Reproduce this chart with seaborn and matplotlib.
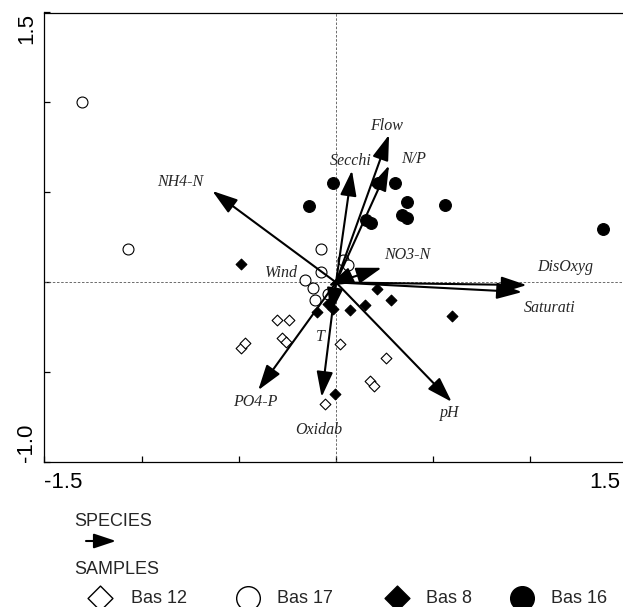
import numpy as np
import pandas as pd
import seaborn as sns
import matplotlib.pyplot as plt
import matplotlib.transforms as mtransforms

# sample scores (axis 1, axis 2)
bas12_x = [-0.303, -0.242, -0.489, -0.468, -0.278, -0.257, 0.021, 0.257, 0.175, 0.195, -0.057]
bas12_y = [-0.210, -0.210, -0.366, -0.338, -0.310, -0.332, -0.343, -0.421, -0.549, -0.577, -0.677]

bas17_x = [-1.307, -1.070, -0.077, 0.036, 0.062, -0.077, -0.159, -0.118, -0.108, -0.041]
bas17_y = [1.004, 0.185, 0.185, 0.124, 0.096, 0.057, 0.013, -0.032, -0.098, -0.065]

bas8_x = [-0.489, 0.211, 0.283, 0.149, 0.072, 0.597, -0.005, -0.098, -0.015, -0.041]
bas8_y = [0.102, -0.037, -0.099, -0.126, -0.154, -0.188, -0.622, -0.165, -0.149, -0.121]

bas16_x = [-0.015, -0.139, 0.216, 0.304, 0.365, 0.561, 0.340, 0.365, 0.154, 0.180, 1.373]
bas16_y = [0.553, 0.425, 0.553, 0.553, 0.447, 0.430, 0.375, 0.358, 0.347, 0.330, 0.297]

# environmental variables (arrow tips)
env_names = ["NH4-N", "Flow", "N/P", "Secchi", "NO3-N", "DisOxyg", "Saturati",
             "Wind", "T", "PO4-P", "Oxidab", "pH"]
env_x = [-0.636, 0.273, 0.273, 0.082, 0.235, 0.981, 0.957, -0.04, -0.026, -0.400, -0.074, 0.595]
env_y = [0.508, 0.820, 0.650, 0.622, 0.081, -0.015, -0.054, -0.02, -0.171, -0.599, -0.637, -0.664]
# where the names sit
lab_x = [-0.802, 0.260, 0.398, 0.075, 0.364, 1.178, 1.101, -0.279, -0.082, -0.417, -0.091, 0.586]
lab_y = [0.558, 0.867, 0.686, 0.675, 0.152, 0.087, -0.145, 0.053, -0.304, -0.664, -0.818, -0.726]

groups = ["Bas 12", "Bas 17", "Bas 8", "Bas 16"]

df = pd.concat([
    pd.DataFrame({"x": bas12_x, "y": bas12_y, "group": "Bas 12"}),
    pd.DataFrame({"x": bas17_x, "y": bas17_y, "group": "Bas 17"}),
    pd.DataFrame({"x": bas8_x, "y": bas8_y, "group": "Bas 8"}),
    pd.DataFrame({"x": bas16_x, "y": bas16_y, "group": "Bas 16"}),
], ignore_index=True)

styles = {
    "Bas 12": dict(marker="D", face="white", s=30),
    "Bas 17": dict(marker="o", face="white", s=62),
    "Bas 8": dict(marker="D", face="black", s=30),
    "Bas 16": dict(marker="o", face="black", s=72),
}

sns.set_theme(style="ticks")
plt.rcParams["font.family"] = ["Liberation Sans", "DejaVu Sans"]

W, H = 623, 607
fig = plt.figure(figsize=(W / 100, H / 100), dpi=100)
ax = fig.add_axes([44.4 / W, 1 - 462.3 / H, 583.2 / W, (462.3 - 12.5) / H])
ax.set_xlim(-1.5, 1.5)
ax.set_ylim(-1.0, 1.5)

ax.axhline(0, color="#555555", lw=0.6, ls=(0, (3, 2)), zorder=1)
ax.axvline(0, color="#555555", lw=0.6, ls=(0, (3, 2)), zorder=1)

for g in groups:
    st = styles[g]
    sns.scatterplot(data=df[df.group == g], x="x", y="y", marker=st["marker"], s=st["s"],
                    color=st["face"], edgecolor="black", linewidth=0.8, legend=False,
                    ax=ax, zorder=3)

arrow_style = "-|>,head_length=1.55,head_width=0.5"
for name, ex, ey, lx, ly in zip(env_names, env_x, env_y, lab_x, lab_y):
    ax.annotate("", xy=(ex, ey), xytext=(0, 0),
                arrowprops=dict(arrowstyle=arrow_style, mutation_scale=10, lw=1.5,
                                color="black", shrinkA=0, shrinkB=0), zorder=4)
    ax.text(lx, ly, name, ha="center", va="center", fontstyle="italic",
            family="Liberation Serif", fontsize=11.5, zorder=5)

ax.set_xlabel("")
ax.set_ylabel("")
ax.set_xticks(np.arange(-1.5, 1.51, 0.5))
ax.set_xticklabels(["-1.5", "", "", "", "", "", "1.5"])
ax.set_yticks(np.arange(-1.0, 1.51, 0.5))
ax.set_yticklabels(["-1.0", "", "", "", "", "1.5"])
ax.tick_params(axis="x", direction="in", length=4, width=0.9, pad=7, labelsize=16,
               colors="black", top=False)
ax.tick_params(axis="y", direction="in", length=4, width=0.9, pad=5, labelsize=16,
               colors="black", right=False, labelrotation=90)
xl = ax.get_xticklabels()
xl[0].set_ha("left")
xl[-1].set_ha("right")
# the right end sits just past the figure edge; nudge its label back inside
xl[-1].set_transform(xl[-1].get_transform() +
                     mtransforms.ScaledTranslation(-5 / 72, 0, fig.dpi_scale_trans))
yl = ax.get_yticklabels()
yl[0].set_va("bottom")
yl[-1].set_va("top")
for side in ["left", "top", "bottom", "right"]:
    ax.spines[side].set_linewidth(0.9)
    ax.spines[side].set_color("black")

# legend block below the plot, laid out in pixel space
lax = fig.add_axes([0, 0, 1, 1], zorder=-1)
lax.set_xlim(0, W)
lax.set_ylim(H, 0)
lax.set_axis_off()

lax.text(74, 526, "SPECIES", ha="left", va="baseline", fontsize=13)
lax.annotate("", xy=(116, 541), xytext=(86, 541),
             arrowprops=dict(arrowstyle="-|>,head_length=1.35,head_width=0.45",
                             mutation_scale=10, lw=1.5, color="black",
                             shrinkA=0, shrinkB=0))
lax.text(74, 574, "SAMPLES", ha="left", va="baseline", fontsize=13)

leg_marker_x = [100, 247.5, 396.5, 522]
leg_text_x = [131, 277, 426, 551]
leg_sizes = {"D": 160, "o": 290}
for g, mx, tx in zip(groups, leg_marker_x, leg_text_x):
    st = styles[g]
    lax.scatter([mx], [598], marker=st["marker"], s=leg_sizes[st["marker"]],
                facecolor=st["face"], edgecolor="black", linewidth=1.0, clip_on=False)
    lax.text(tx, 603.3, g, ha="left", va="baseline", fontsize=13)

fig.savefig("out.png", dpi=100)
